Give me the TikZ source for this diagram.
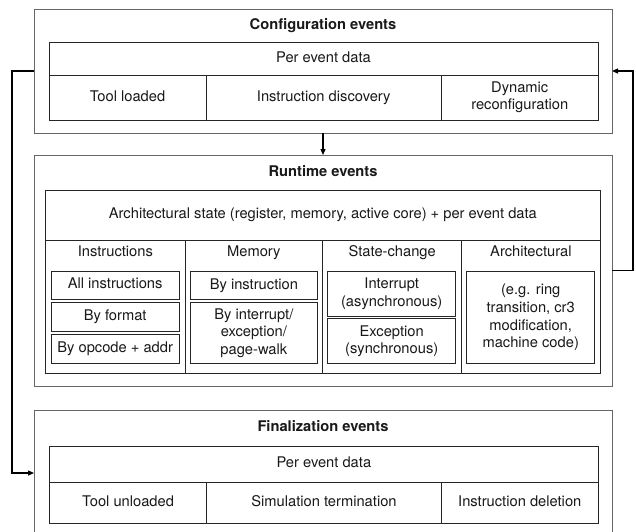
\documentclass[tikz,border=0pt]{standalone}
\usepackage{fontspec}
\setmainfont{TeX Gyre Heros}
\usetikzlibrary{arrows.meta}
\newcommand\rbox[7]{\node[#2, minimum width={(#5-#3)*1pt}, minimum height={(#6-#4)*1pt}] (#1) at ({(#3+#5)/2},{(#4+#6)/2}) {#7};}
\newcommand\mystrut{\rule[-3.4pt]{0pt}{14pt}}
\tikzset{
  base/.style={inner sep=0pt, outer sep=0pt, align=center, font=\fontsize{14.7}{17.6}\selectfont, text=black!90,
    execute at begin node={\mystrut}, execute at end node={\mystrut}},
  outerbox/.style={base, draw=black!60, line width=1pt},
  innerbox/.style={base, draw=black!85, line width=1pt},
  lbl/.style={base},
  ttl/.style={base, font=\fontsize{14.7}{17.6}\selectfont\bfseries},
  conn/.style={draw=black, line width=1.2pt},
  arr/.style={conn, -{Triangle[length=6pt,width=5pt]}}
}
\begin{document}
\begin{tikzpicture}[x=1pt,y=-1pt]
\path[use as bounding box] (0,0) rectangle (636,531);
\clip (0,0) rectangle (636,531);
\fill[white] (0,0) rectangle (636,531);
% Configuration
\rbox{cfg}{outerbox}{34}{9}{612}{133}{}
\node[ttl] (cfgt) at (323,25.5) {Configuration events};
\rbox{cfgd}{innerbox}{49}{42}{598}{75}{Per event data}
\rbox{cfga}{innerbox}{49}{75}{206}{120}{Tool loaded}
\rbox{cfgb}{innerbox}{206}{75}{441.5}{120}{Instruction discovery}
\rbox{cfgc}{innerbox}{441.5}{75}{598}{120}{Dynamic\\reconfiguration}
% Runtime
\rbox{rt}{outerbox}{34}{155}{612}{386}{}
\node[ttl] (rtt) at (323,172.5) {Runtime events};
\rbox{rtd}{innerbox}{45.7}{190}{600}{240}{Architectural state (register, memory, active core) + per event data}
\rbox{c1}{innerbox}{45.7}{240}{185}{373}{}
\rbox{c2}{innerbox}{185}{240}{322.7}{373}{}
\rbox{c3}{innerbox}{322.7}{240}{461.7}{373}{}
\rbox{c4}{innerbox}{461.7}{240}{600}{373}{}
\node[lbl] (h1) at (115.35,253) {Instructions};
\node[lbl] (h2) at (253.85,253) {Memory};
\node[lbl] (h3) at (392.2,253) {State-change};
\node[lbl] (h4) at (530.85,253) {Architectural};
\rbox{s11}{innerbox}{51.3}{271}{179}{299.5}{All instructions}
\rbox{s12}{innerbox}{51.3}{302.5}{179}{331}{By format}
\rbox{s13}{innerbox}{51.3}{334.5}{179}{363.5}{By opcode + addr}
\rbox{s21}{innerbox}{190}{271.3}{317.7}{299.5}{By instruction}
\rbox{s22}{innerbox}{190}{302.5}{317.7}{363.8}{By interrupt/\\exception/\\page-walk}
\rbox{s31}{innerbox}{327.7}{271.3}{455.7}{316}{Interrupt\\(asynchronous)}
\rbox{s32}{innerbox}{327.7}{318.8}{455.7}{363.8}{Exception\\(synchronous)}
\rbox{s41}{innerbox}{466.7}{271.5}{594.7}{363.8}{(e.g. ring\\transition, cr3\\modification,\\machine code)}
% Finalization
\rbox{fin}{outerbox}{34}{410}{612}{536}{}
\node[ttl] (fint) at (323,428) {Finalization events};
\rbox{find}{innerbox}{49.7}{446}{598}{482.3}{Per event data}
\rbox{fina}{innerbox}{49.7}{482.3}{206.5}{523.3}{Tool unloaded}
\rbox{finb}{innerbox}{206.5}{482.3}{441.5}{523.3}{Simulation termination}
\rbox{finc}{innerbox}{441.5}{482.3}{598}{523.3}{Instruction deletion}
% Connectors
\coordinate (rr) at (633,0);
\coordinate (ll) at (12,0);
\draw[arr] (cfg.south) -- (rt.north);
\draw[arr] (rt.east) -- (rt.east -| rr) |- (cfg.east);
\draw[arr] (cfg.west) -- (cfg.west -| ll) |- (fin.west);
\end{tikzpicture}
\end{document}
